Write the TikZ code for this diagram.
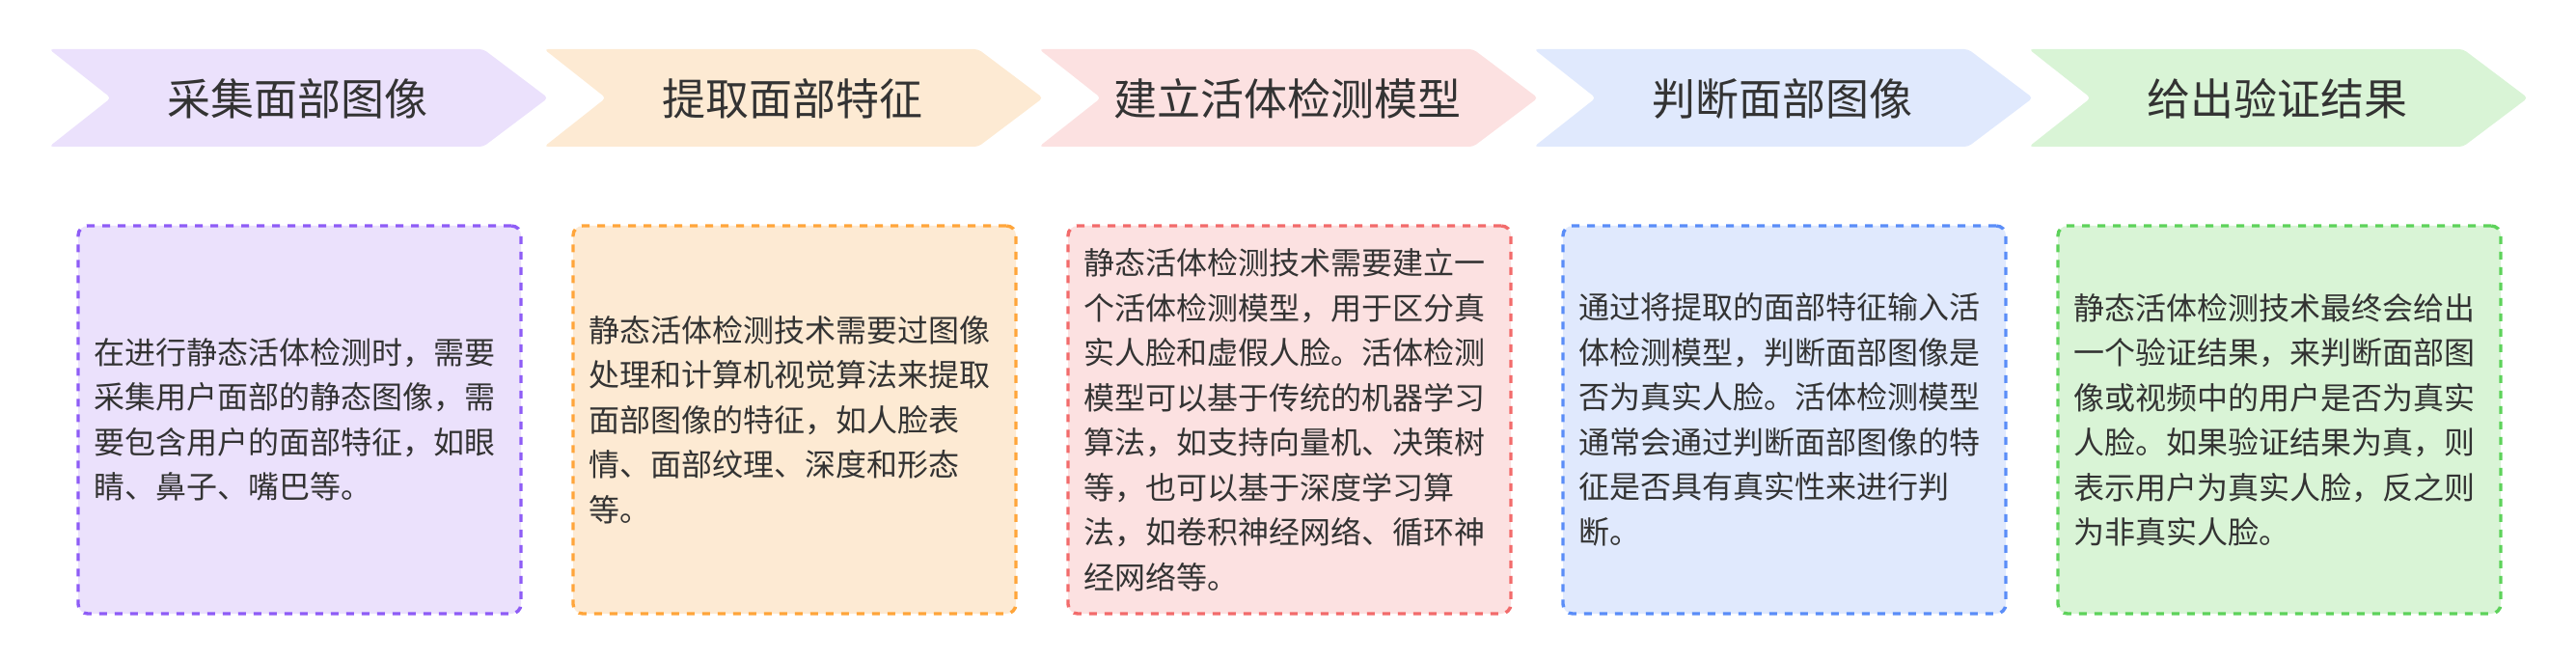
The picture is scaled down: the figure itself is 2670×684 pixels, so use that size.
\documentclass[tikz,border=0pt]{standalone}
\usepackage{fontspec}
\setmainfont{Noto Sans CJK SC}
\definecolor{txt}{HTML}{333333}
\definecolor{fA}{HTML}{EBE1FC}
\definecolor{dA}{HTML}{8E5CF6}
\definecolor{fB}{HTML}{FDEAD3}
\definecolor{dB}{HTML}{FFA53A}
\definecolor{fC}{HTML}{FCE1E1}
\definecolor{dC}{HTML}{F26B6B}
\definecolor{fD}{HTML}{E0E9FD}
\definecolor{dD}{HTML}{5A8DF8}
\definecolor{fE}{HTML}{D9F4D6}
\definecolor{dE}{HTML}{5DD25A}
\tikzset{
  chevshape/.style={rounded corners=4pt, draw=none},
  stage/.style={font=\fontsize{45}{52}\selectfont, text=txt, anchor=center, inner sep=0pt},
  descbox/.style={rectangle, rounded corners=10pt, dash pattern=on 8pt off 8pt,
    line width=3.4pt, minimum width=459pt, minimum height=402pt,
    text width=427pt, inner xsep=16pt, inner ysep=0pt, align=left,
    font=\fontsize{32}{46.5}\selectfont, text=txt}
}
\begin{document}
\begin{tikzpicture}[x=1pt,y=-1pt]
\useasboundingbox (0,0) rectangle (2670,684);
% chevrons
\fill[chevshape, fA] (51,51) -- (501,51) -- (568,101.5) -- (501,152) -- (51,152) -- (115,101.5) -- cycle;
\fill[chevshape, fB] (564,51) -- (1014,51) -- (1081,101.5) -- (1014,152) -- (564,152) -- (628,101.5) -- cycle;
\fill[chevshape, fC] (1077,51) -- (1527,51) -- (1594,101.5) -- (1527,152) -- (1077,152) -- (1141,101.5) -- cycle;
\fill[chevshape, fD] (1590,51) -- (2040,51) -- (2107,101.5) -- (2040,152) -- (1590,152) -- (1654,101.5) -- cycle;
\fill[chevshape, fE] (2103,51) -- (2553,51) -- (2620,101.5) -- (2553,152) -- (2103,152) -- (2167,101.5) -- cycle;
\node[stage] (h1) at (308,102) {采集面部图像};
\node[stage] (h2) at (821,102) {提取面部特征};
\node[stage] (h3) at (1334,102) {建立活体检测模型};
\node[stage] (h4) at (1847,102) {判断面部图像};
\node[stage] (h5) at (2360,102) {给出验证结果};
% description boxes
\node[descbox, draw=dA, fill=fA] (b1) at (310.5,435) {在进行静态活体检测时，需要\\采集用户面部的静态图像，需\\要包含用户的面部特征，如眼\\睛、鼻子、嘴巴等。};
\node[descbox, draw=dB, fill=fB] (b2) at (823.5,435) {静态活体检测技术需要过图像\\处理和计算机视觉算法来提取\\面部图像的特征，如人脸表\\情、面部纹理、深度和形态\\等。};
\node[descbox, draw=dC, fill=fC] (b3) at (1336.5,435) {静态活体检测技术需要建立一\\个活体检测模型，用于区分真\\实人脸和虚假人脸。活体检测\\模型可以基于传统的机器学习\\算法，如支持向量机、决策树\\等，也可以基于深度学习算\\法，如卷积神经网络、循环神\\经网络等。};
\node[descbox, draw=dD, fill=fD] (b4) at (1849.5,435) {通过将提取的面部特征输入活\\体检测模型，判断面部图像是\\否为真实人脸。活体检测模型\\通常会通过判断面部图像的特\\征是否具有真实性来进行判\\断。};
\node[descbox, draw=dE, fill=fE] (b5) at (2362.5,435) {静态活体检测技术最终会给出\\一个验证结果，来判断面部图\\像或视频中的用户是否为真实\\人脸。如果验证结果为真，则\\表示用户为真实人脸，反之则\\为非真实人脸。};
\end{tikzpicture}
\end{document}
